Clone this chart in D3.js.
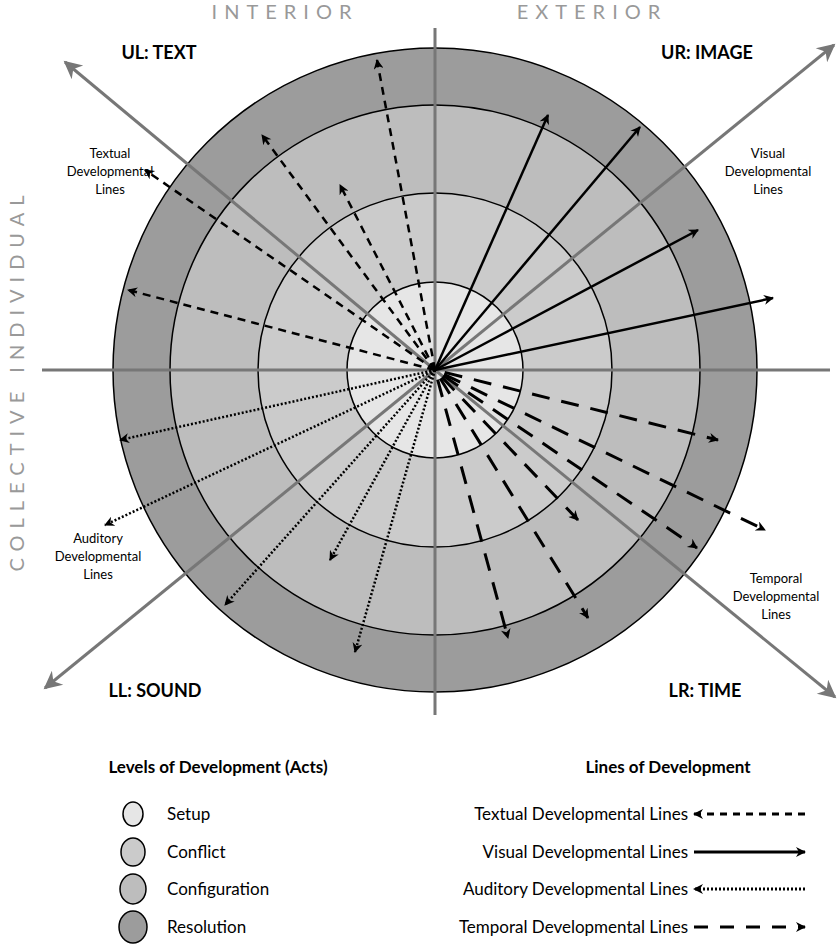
<!DOCTYPE html><html><head><meta charset="utf-8"><script src="https://cdn.jsdelivr.net/npm/d3@7"></script>
<style>body{margin:0;background:#fff}text{font-family:Lato,"Open Sans",sans-serif}</style></head><body><svg id="c" width="839" height="949"></svg>
<script>
const levels=["Setup","Conflict","Configuration","Resolution"];
const levelRadius=[88,177,265,322];
const levelFill=["#e6e6e6","#cbcbcb","#bdbdbd","#9c9c9c"];
const textual=[[-58,-310],[-173,-235],[-95,-185],[-290,-200],[-307,-80]];
const visual=[[113,-255],[205,-243],[263,-140],[338,-72]];
const auditory=[[-315,70],[-330,155],[-210,235],[-105,190],[-80,282]];
const temporal=[[283,70],[330,160],[262,178],[143,150],[153,248],[73,268]];
const lineNames=["Textual Developmental Lines","Visual Developmental Lines","Auditory Developmental Lines","Temporal Developmental Lines"];
const cx=435,cy=370;
const x=d3.scaleLinear().domain([0,1]).range([cx,cx+1]);
const y=d3.scaleLinear().domain([0,1]).range([cy,cy+1]);
const svg=d3.select("#c");
const defs=svg.append("defs");
function marker(id,color,w,h){defs.append("marker").attr("id",id).attr("viewBox","0 0 10 10").attr("refX",9).attr("refY",5)
 .attr("markerWidth",w).attr("markerHeight",h).attr("markerUnits","userSpaceOnUse").attr("orient","auto")
 .append("path").attr("d","M0,0L10,5L0,10L3,5Z").attr("fill",color);}
marker("ga","#777",22,18);marker("ba","#000",12,10);
[3,2,1,0].forEach(i=>svg.append("circle").attr("cx",x(0)).attr("cy",y(0)).attr("r",levelRadius[i]).attr("fill",levelFill[i]).attr("stroke","#000").attr("stroke-width",1.5));
const g="#777";
svg.append("line").attr("x1",x(0)).attr("y1",28).attr("x2",x(0)).attr("y2",715).attr("stroke",g).attr("stroke-width",3);
svg.append("line").attr("x1",42).attr("y1",y(0)).attr("x2",830).attr("y2",y(0)).attr("stroke",g).attr("stroke-width",3);
[[-370,-308],[399,-325],[-390,318],[400,327]].forEach(d=>svg.append("line").attr("x1",x(0)).attr("y1",y(0)).attr("x2",x(d[0])).attr("y2",y(d[1])).attr("stroke",g).attr("stroke-width",3).attr("marker-end","url(#ga)"));
function draw(data,dash,w,off){data.forEach(d=>{const L=Math.hypot(d[0],d[1]),ux=d[0]/L,uy=d[1]/L;
 svg.append("line").attr("x1",x(ux*off)).attr("y1",y(uy*off)).attr("x2",x(d[0])).attr("y2",y(d[1])).attr("stroke","#000").attr("stroke-width",w).attr("stroke-dasharray",dash).attr("marker-end","url(#ba)");});}
draw(textual,"8,6",2.5,0);draw(visual,null,2.5,0);draw(auditory,"2,2",2.5,0);draw(temporal,"18,12",3,10);
const q=[["UL: TEXT",159,59],["UR: IMAGE",707,59],["LL: SOUND",155,697],["LR: TIME",705,697]];
q.forEach(t=>svg.append("text").attr("x",t[1]).attr("y",t[2]).attr("text-anchor","middle").attr("font-size",18).attr("font-weight","bold").text(t[0]));
const side=[["Textual",110,158],["Visual",768,158],["Auditory",98,543],["Temporal",776,583]];
side.forEach(t=>{[t[0],"Developmental","Lines"].forEach((s,i)=>svg.append("text").attr("x",t[1]).attr("y",t[2]+i*18).attr("text-anchor","middle").attr("font-size",13).text(s));});
svg.append("text").attr("x",285).attr("y",19).attr("text-anchor","middle").attr("font-size",20).attr("fill","#999").attr("letter-spacing",7).text("INTERIOR");
svg.append("text").attr("x",592).attr("y",19).attr("text-anchor","middle").attr("font-size",20).attr("fill","#999").attr("letter-spacing",7).text("EXTERIOR");
svg.append("text").attr("transform","translate(24,380) rotate(-90)").attr("text-anchor","middle").attr("font-size",20).attr("fill","#999").attr("letter-spacing",7).text("COLLECTIVE  INDIVIDUAL");
svg.append("text").attr("x",218).attr("y",773).attr("text-anchor","middle").attr("font-size",17).attr("font-weight","bold").text("Levels of Development (Acts)");
svg.append("text").attr("x",668).attr("y",773).attr("text-anchor","middle").attr("font-size",17).attr("font-weight","bold").text("Lines of Development");
const ly=[814,852,889,927],lr=[10,12,13,14];
levels.forEach((l,i)=>{svg.append("ellipse").attr("cx",133).attr("cy",ly[i]).attr("rx",lr[i]).attr("ry",lr[i]+2).attr("fill",levelFill[i]).attr("stroke","#000").attr("stroke-width",1.5);
 svg.append("text").attr("x",167).attr("y",ly[i]+6).attr("font-size",17).text(l);});
const styles=[["7,6",true],[null,false],["2,2",true],["14,12",false]];
lineNames.forEach((n,i)=>{svg.append("text").attr("x",688).attr("y",ly[i]+6).attr("text-anchor","end").attr("font-size",17).text(n);
 const [a,b]=styles[i][1]?[805,694]:[694,805];
 svg.append("line").attr("x1",a).attr("y1",ly[i]).attr("x2",b).attr("y2",ly[i]).attr("stroke","#000").attr("stroke-width",3).attr("stroke-dasharray",styles[i][0]).attr("marker-end","url(#ba)");});
</script></body></html>
